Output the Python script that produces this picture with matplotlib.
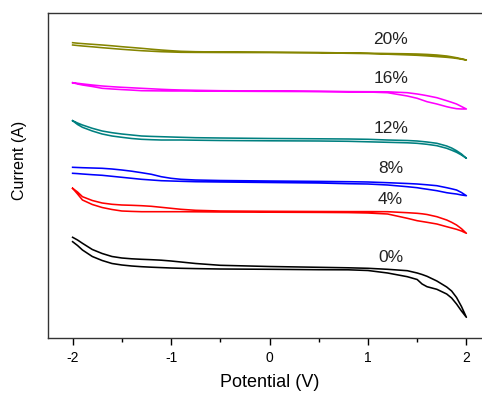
import matplotlib
matplotlib.use("Agg")
import matplotlib.pyplot as plt
import numpy as np
from matplotlib.ticker import MultipleLocator, NullLocator

# Potential grid (V)
potential = [-2, -1.95, -1.9, -1.8, -1.7, -1.6, -1.5, -1.4, -1.3, -1.2,
             -1.1, -1, -0.9, -0.75, -0.5, 0, 0.5, 0.8, 1, 1.2,
             1.4, 1.5, 1.55, 1.6, 1.7, 1.8, 1.85, 1.9, 1.95, 2]

labels = ["20%", "16%", "12%", "8%", "4%", "0%"]
colors = ["#858500", "#ff00ff", "#008080", "#0000ff", "#ff0000", "#000000"]

# Current (arbitrary, offset units) - upper and lower branches of each CV loop
upper_20 = [295.3, 294.8, 294.4, 293.7, 293.0, 292.2, 291.3, 290.5, 289.7, 288.8,
            288.0, 287.3, 286.7, 286.3, 286.0, 285.8, 285.5, 285.0, 284.8, 284.5,
            284.2, 284.0, 283.8, 283.6, 283.0, 282.0, 281.2, 280.3, 279.2, 278.0]
lower_20 = [293.0, 292.5, 292.0, 291.2, 290.3, 289.5, 288.7, 288.0, 287.3, 286.8,
            286.3, 286.0, 285.7, 285.6, 285.5, 285.4, 285.2, 284.7, 284.4, 283.8,
            283.1, 282.7, 282.4, 282.1, 281.4, 280.7, 280.2, 279.6, 278.8, 278.0]

upper_16 = [255.3, 254.7, 254.1, 253.0, 252.0, 251.3, 250.7, 250.2, 249.7, 249.2,
            248.7, 248.3, 248.0, 247.7, 247.3, 247.0, 246.7, 246.4, 246.3, 246.2,
            245.3, 244.0, 243.2, 242.3, 240.3, 237.3, 235.7, 234.0, 231.5, 229.0]
lower_16 = [255.3, 254.0, 253.0, 251.5, 249.7, 249.0, 248.4, 247.9, 247.3, 247.2,
            247.1, 247.0, 247.0, 246.9, 246.8, 246.6, 246.4, 246.2, 246.0, 245.3,
            242.0, 239.7, 238.0, 236.3, 234.0, 231.3, 230.2, 229.3, 229.0, 229.0]

upper_12 = [217.3, 215.0, 213.0, 209.7, 207.0, 205.3, 204.0, 203.0, 202.0, 201.6,
            201.3, 201.0, 200.7, 200.3, 200.0, 199.5, 199.2, 199.0, 198.7, 198.0,
            197.5, 197.0, 196.5, 196.0, 194.7, 192.0, 190.0, 187.3, 184.0, 179.7]
lower_12 = [217.3, 213.5, 210.7, 207.0, 204.0, 202.0, 200.7, 199.5, 198.7, 198.3,
            198.0, 198.0, 198.0, 197.8, 197.5, 197.2, 197.0, 196.7, 196.2, 195.7,
            195.2, 194.7, 194.2, 193.7, 192.3, 189.7, 187.8, 185.7, 183.0, 179.7]

upper_8 = [170.7, 170.5, 170.3, 170.0, 169.7, 169.0, 168.0, 166.8, 165.3, 163.7,
           161.3, 159.7, 158.7, 158.0, 157.5, 157.0, 156.6, 156.3, 156.0, 155.3,
           154.5, 154.0, 153.6, 153.2, 152.3, 150.3, 149.2, 148.0, 145.5, 142.3]
lower_8 = [164.7, 164.4, 164.0, 163.3, 162.7, 161.7, 160.7, 159.7, 158.7, 158.0,
           157.3, 157.0, 156.7, 156.3, 156.0, 155.5, 155.0, 154.3, 154.0, 153.0,
           151.3, 150.3, 149.5, 148.8, 147.3, 145.3, 144.6, 144.0, 143.0, 142.3]

upper_4 = [149.7, 146.0, 141.3, 137.5, 135.0, 133.7, 133.0, 132.7, 132.3, 131.7,
           130.7, 129.7, 128.7, 127.7, 127.0, 126.7, 126.5, 126.4, 126.4, 126.3,
           125.3, 124.7, 124.2, 123.5, 121.3, 118.0, 115.7, 113.0, 109.3, 104.7]
lower_4 = [149.7, 144.0, 138.0, 133.5, 130.5, 128.5, 127.0, 126.6, 126.3, 126.3,
           126.3, 126.3, 126.3, 126.2, 126.0, 125.8, 125.6, 125.4, 125.0, 124.0,
           119.7, 117.3, 116.5, 115.7, 114.0, 111.3, 110.0, 108.7, 107.0, 104.7]

upper_0 = [100.7, 98.0, 94.7, 88.5, 84.5, 81.5, 80.0, 79.2, 78.7, 78.3,
           77.8, 77.0, 76.0, 74.5, 72.7, 71.5, 70.7, 70.2, 69.7, 68.7,
           67.3, 65.0, 63.5, 61.7, 57.0, 51.0, 47.0, 40.5, 31.5, 20.7]
lower_0 = [96.3, 92.5, 88.0, 81.5, 77.5, 74.5, 73.0, 72.0, 71.3, 70.8,
           70.4, 70.0, 69.7, 69.4, 69.0, 68.7, 68.3, 68.2, 67.5, 65.0,
           61.3, 58.5, 54.0, 51.3, 48.7, 44.0, 40.0, 34.0, 27.0, 20.7]

uppers = [upper_20, upper_16, upper_12, upper_8, upper_4, upper_0]
lowers = [lower_20, lower_16, lower_12, lower_8, lower_4, lower_0]

# label anchor (potential, current)
label_x = 1.23
label_y = [298.7, 259.7, 209.7, 169.7, 138.0, 80.7]

plt.rcParams['font.family'] = ['Liberation Sans', 'DejaVu Sans']
plt.rcParams['axes.unicode_minus'] = False

fig = plt.figure(figsize=(4.82, 3.94), dpi=100)
ax = fig.add_axes([48 / 482, 56 / 394, 443 / 482, 325 / 394])

v = np.array(potential)
for up, lo, c in zip(uppers, lowers, colors):
    xs = np.concatenate([v, v[::-1]])
    ys = np.concatenate([np.array(up), np.array(lo)[::-1]])
    ax.plot(xs, ys, color=c, lw=1.15, solid_joinstyle="round")

for lab, ly in zip(labels, label_y):
    ax.text(label_x, ly, lab, ha="center", va="center", fontsize=12.5, color="#222222")

ax.set_xlim(-2.25, 2.25)
ax.set_ylim(0, 325)
ax.xaxis.set_major_locator(MultipleLocator(1))
ax.xaxis.set_minor_locator(MultipleLocator(0.5))
ax.yaxis.set_major_locator(NullLocator())
ax.yaxis.set_minor_locator(NullLocator())
ax.tick_params(axis="x", which="major", direction="out", length=5, width=1, labelsize=10, pad=4)
ax.tick_params(axis="x", which="minor", direction="out", length=3, width=1)
for s in ax.spines.values():
    s.set_linewidth(1.0)
    s.set_color("#333333")

ax.set_xlabel("Potential (V)", fontsize=13, labelpad=7)
ax.set_ylabel("Current (A)", fontsize=11.5)
ax.yaxis.set_label_coords(-0.047, 0.545)

fig.savefig("out.png", dpi=100)
